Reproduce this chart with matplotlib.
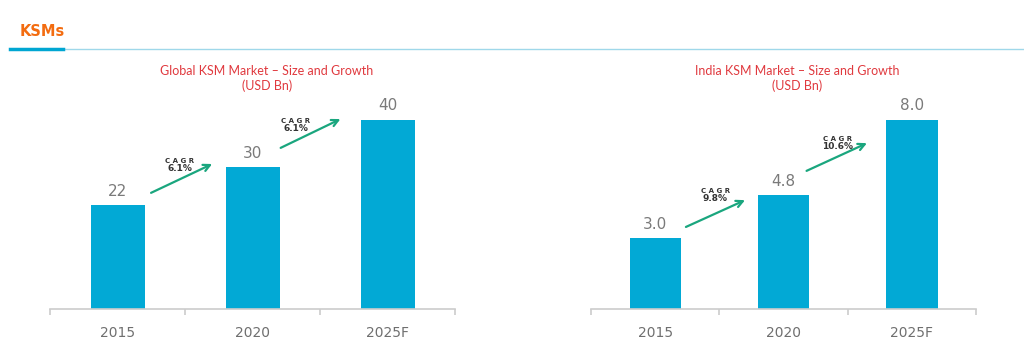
import matplotlib
matplotlib.use('Agg')
import matplotlib.pyplot as plt

# data
years = ['2015', '2020', '2025F']
global_vals = [22, 30, 40]
india_vals = [3.0, 4.8, 8.0]
global_labels = ['22', '30', '40']
india_labels = ['3.0', '4.8', '8.0']
global_cagr = ['6.1%', '6.1%']
india_cagr = ['9.8%', '10.6%']
global_title = 'Global KSM Market – Size and Growth\n(USD Bn)'
india_title = 'India KSM Market – Size and Growth\n(USD Bn)'

BAR = '#02a9d5'
GREEN = '#1aa67e'
RED = '#e0393e'
GREY = '#6f6f6f'

fig = plt.figure(figsize=(10.24, 3.47), dpi=100)

# header
fig.text(20 / 1024, 1 - 32 / 347, 'KSMs', color='#f36c10', fontsize=10.5,
         fontweight='bold', va='center', ha='left')
fig.add_artist(plt.Line2D([10 / 1024, 1], [1 - 49 / 347] * 2,
                          color='#9fd8ea', linewidth=1.0))
fig.add_artist(plt.Line2D([10 / 1024, 63 / 1024], [1 - 49 / 347] * 2,
                          color='#00a6d2', linewidth=2.5))


def draw(ax, vals, labels, cagr, title, ymax, arrows, texts):
    x = range(len(vals))
    ax.bar(x, vals, width=0.4, color=BAR, zorder=2)
    ax.set_xlim(-0.5, len(vals) - 0.5)
    ax.set_ylim(0, ymax)
    for i, (v, lab) in enumerate(zip(vals, labels)):
        ax.annotate(lab, (i, v), xytext=(0, 4.5), textcoords='offset points',
                    ha='center', va='bottom', fontsize=11, color='#7a7a7a',
                    family='DejaVu Sans')
    for (x0, y0, x1, y1) in arrows:
        ax.annotate('', xy=(x1, y1), xytext=(x0, y0),
                    arrowprops=dict(arrowstyle='->', color=GREEN, lw=1.6,
                                    mutation_scale=12))
    for (tx, ty), c in zip(texts, cagr):
        ax.text(tx, ty, 'C A G R', ha='center', va='bottom', fontsize=5,
                fontweight='bold', color='#333333')
        ax.text(tx, ty, c, ha='center', va='top', fontsize=6.5,
                fontweight='bold', color='#333333')
    ax.text(0.535, 1.005, title, transform=ax.transAxes, ha='center',
            va='center', color=RED, fontsize=9, family='Lato',
            linespacing=1.25)
    for s in ['left', 'right', 'top']:
        ax.spines[s].set_visible(False)
    ax.spines['bottom'].set_color('#cccccc')
    ax.spines['bottom'].set_linewidth(1.2)
    ax.set_yticks([])
    ax.set_xticks(list(x))
    ax.set_xticklabels(years, fontsize=10, color=GREY, family='DejaVu Sans')
    ax.tick_params(axis='x', which='major', length=0, pad=12)
    ax.set_xticks([i - 0.5 for i in range(len(vals) + 1)], minor=True)
    ax.tick_params(axis='x', which='minor', length=4, color='#cccccc',
                   width=1.2)


bottom = 38 / 347
height = 229 / 347
ax1 = fig.add_axes([50 / 1024, bottom, 405 / 1024, height])
ax2 = fig.add_axes([591 / 1024, bottom, 385 / 1024, height])

draw(ax1, global_vals, global_labels, global_cagr, global_title, 48.4,
     [(0.23, 24.3, 0.72, 30.9), (1.19, 33.8, 1.67, 40.4)],
     [(0.46, 30.7), (1.32, 39.0)])
draw(ax2, india_vals, india_labels, india_cagr, india_title, 9.68,
     [(0.22, 3.42, 0.72, 4.65), (1.16, 5.79, 1.67, 7.06)],
     [(0.47, 4.85), (1.42, 7.05)])

fig.savefig('out.png', dpi=100)
